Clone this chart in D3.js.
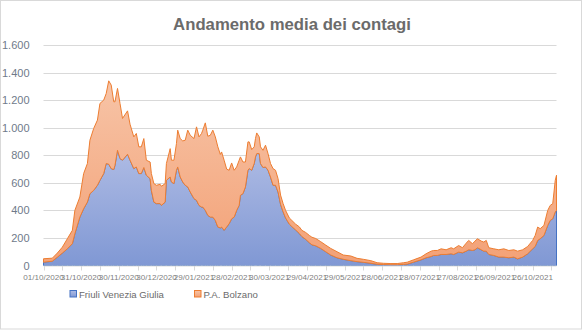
<!DOCTYPE html>
<html><head><meta charset="utf-8">
<script src="https://cdn.jsdelivr.net/npm/d3@7"></script>
<style>html,body{margin:0;padding:0;background:#fff}svg{display:block}</style>
</head><body>
<svg id="chart" width="584" height="330"></svg>
<script>
const chartTitle = "Andamento media dei contagi";
const seriesNames = ["Friuli Venezia Giulia", "P.A. Bolzano"];
const dates = [
"2020-10-01","2020-10-08","2020-10-12","2020-10-16","2020-10-20","2020-10-24","2020-10-26","2020-10-30",
"2020-11-02","2020-11-05","2020-11-07","2020-11-10","2020-11-13","2020-11-15","2020-11-18","2020-11-20",
"2020-11-22","2020-11-24","2020-11-26","2020-11-27","2020-11-29","2020-12-01","2020-12-03","2020-12-07",
"2020-12-09","2020-12-12","2020-12-14","2020-12-16","2020-12-18","2020-12-20","2020-12-22","2020-12-25",
"2020-12-26","2020-12-28","2020-12-30","2021-01-02","2021-01-03","2021-01-06","2021-01-07","2021-01-10",
"2021-01-11","2021-01-13","2021-01-15","2021-01-16","2021-01-18","2021-01-20","2021-01-22","2021-01-24",
"2021-01-26","2021-01-29","2021-01-31","2021-02-02","2021-02-04","2021-02-05","2021-02-07","2021-02-09",
"2021-02-11","2021-02-13","2021-02-15","2021-02-17","2021-02-19","2021-02-20","2021-02-22","2021-02-24",
"2021-02-26","2021-02-28","2021-03-02","2021-03-04","2021-03-06","2021-03-07","2021-03-09","2021-03-11",
"2021-03-13","2021-03-14","2021-03-16","2021-03-18","2021-03-19","2021-03-20","2021-03-22","2021-03-23",
"2021-03-25","2021-03-27","2021-03-29","2021-03-31","2021-04-02","2021-04-04","2021-04-06","2021-04-08",
"2021-04-10","2021-04-12","2021-04-15","2021-04-17","2021-04-20","2021-04-23","2021-04-25","2021-04-28",
"2021-05-01","2021-05-03","2021-05-06","2021-05-10","2021-05-14","2021-05-18","2021-05-23","2021-05-28",
"2021-06-03","2021-06-08","2021-06-13","2021-06-19","2021-06-24","2021-06-29","2021-07-05","2021-07-10",
"2021-07-15","2021-07-18","2021-07-23","2021-07-29","2021-08-02","2021-08-06","2021-08-08","2021-08-11",
"2021-08-14","2021-08-18","2021-08-22","2021-08-24","2021-08-28","2021-08-31","2021-09-03","2021-09-05",
"2021-09-08","2021-09-10","2021-09-12","2021-09-15","2021-09-17","2021-09-19","2021-09-21","2021-09-25",
"2021-09-29","2021-10-03","2021-10-07","2021-10-11","2021-10-14","2021-10-18","2021-10-22","2021-10-26",
"2021-10-28","2021-10-30","2021-11-01","2021-11-04","2021-11-07","2021-11-09","2021-11-11","2021-11-12",
"2021-11-13","2021-11-14"
];
const friuli = [
24,31,60,90,121,158,230,351,
412,460,521,545,582,618,667,740,
735,703,696,727,836,776,764,807,
764,703,715,667,667,711,655,630,
545,460,449,449,436,460,618,642,
606,594,691,715,642,606,582,570,
533,485,473,436,424,424,400,364,
351,351,327,279,273,279,255,279,
303,339,351,400,436,509,521,570,
691,703,691,740,788,812,812,740,
711,715,691,642,582,582,533,444,
390,345,300,282,258,232,210,190,
165,150,143,124,100,76,56,45,
35,28,23,16,9,7,5,5,
8,10,24,41,56,65,73,73,
80,80,85,80,97,92,104,114,
109,114,129,114,104,104,80,73,
61,61,56,61,48,61,85,121,
138,182,194,218,291,327,339,364,
388,400
];
const bolzano = [
25,22,30,43,73,97,170,146,
255,280,388,449,473,558,533,508,
605,606,492,461,449,400,303,315,
261,230,243,194,194,210,109,121,
122,134,133,140,139,134,122,206,
158,170,194,267,279,298,327,412,
412,436,533,497,534,558,635,574,
594,631,606,582,533,545,509,421,
388,405,340,315,328,279,230,181,
206,194,150,121,133,150,121,121,
125,158,121,98,121,109,97,67,
60,55,45,45,42,48,45,50,
53,55,53,49,48,48,44,31,
34,24,22,19,11,9,9,9,
12,14,17,20,29,39,36,36,
41,34,44,41,48,37,58,68,
49,63,65,63,66,78,49,48,
53,60,53,53,56,53,53,61,
80,97,73,73,109,109,110,169,
230,255
];
const yTickValues = [0, 200, 400, 600, 800, 1000, 1200, 1400, 1600];
const labelDates = ["2020-10-01","2020-10-31","2020-11-30","2020-12-30","2021-01-29","2021-02-28",
"2021-03-30","2021-04-29","2021-05-29","2021-06-28","2021-07-28","2021-08-27","2021-09-26","2021-10-26"];

const parse = d3.utcParse("%Y-%m-%d");
const fmtDate = d3.utcFormat("%d/%m/%Y");
const itFmt = d3.formatLocale({decimal: ",", thousands: ".", grouping: [3], currency: ["", " €"]}).format(",d");

const svg = d3.select("#chart");
const plot = {left: 43.5, right: 556.5, top: 45, bottom: 265.5};
const FONT = "Liberation Sans, Arial, sans-serif";

svg.append("rect").attr("x", 0.5).attr("y", 0.5).attr("width", 581).attr("height", 328.5)
  .attr("fill", "#fff").attr("stroke", "#d9d9d9").attr("stroke-width", 1);

const rows = dates.map((d, i) => ({date: parse(d), fvg: friuli[i], bz: bolzano[i]}));
const x = d3.scaleUtc().domain([parse(dates[0]), parse(dates[dates.length - 1])]).range([plot.left, plot.right]);
const y = d3.scaleLinear().domain([0, 1600]).range([plot.bottom, plot.top]);

const defs = svg.append("defs");
function grad(id, top, bottom) {
  const g = defs.append("linearGradient").attr("id", id).attr("x1", 0).attr("y1", 0).attr("x2", 0).attr("y2", 1);
  g.append("stop").attr("offset", "0%").attr("stop-color", top);
  g.append("stop").attr("offset", "100%").attr("stop-color", bottom);
}
grad("gBlue", "#aebbe4", "#8098d4");
grad("gOrange", "#f7c4a7", "#f3a176");

svg.append("g").selectAll("line").data(yTickValues.filter(v => v > 0)).join("line")
  .attr("x1", plot.left).attr("x2", plot.right)
  .attr("y1", d => Math.round(y(d)) + 0.5).attr("y2", d => Math.round(y(d)) + 0.5)
  .attr("stroke", "#d9d9d9").attr("stroke-width", 1);

const stack = d3.stack().keys(["fvg", "bz"]);
const layers = stack(rows);
const area = d3.area().x(d => x(d.data.date)).y0(d => y(d[0])).y1(d => y(d[1]));
const fills = ["url(#gBlue)", "url(#gOrange)"];
const strokes = ["#4472c4", "#ed7d31"];
svg.append("g").selectAll("path").data(layers).join("path")
  .attr("d", area).attr("fill", (d, i) => fills[i])
  .attr("stroke", (d, i) => strokes[i]).attr("stroke-width", 1).attr("stroke-linejoin", "round");

const ticks15 = d3.utcDay.range(parse(dates[0]), d3.utcDay.offset(parse(dates[dates.length - 1]), 1), 15);
const xAxis = svg.append("g").attr("transform", `translate(0,${plot.bottom})`);
xAxis.append("line").attr("x1", plot.left).attr("x2", plot.right).attr("y1", 0.5).attr("y2", 0.5)
  .attr("stroke", "#d9d9d9").attr("stroke-width", 1);
xAxis.selectAll("line.tk").data(ticks15).join("line").attr("class", "tk")
  .attr("x1", d => Math.round(x(d)) + 0.5).attr("x2", d => Math.round(x(d)) + 0.5)
  .attr("y1", 0.5).attr("y2", 5).attr("stroke", "#d9d9d9");
xAxis.selectAll("text").data(labelDates.map(parse)).join("text")
  .attr("x", d => x(d)).attr("y", 14).attr("text-anchor", "middle")
  .attr("font-family", FONT).attr("font-size", 8.1)
  .attr("fill", "#7f7f7f").text(d => fmtDate(d));

svg.append("g").selectAll("text").data(yTickValues).join("text")
  .attr("x", 29.5).attr("y", d => y(d) + 4).attr("text-anchor", "end")
  .attr("font-family", FONT).attr("font-size", 11)
  .attr("fill", "#6f7a8a").text(d => itFmt(d));

const t = svg.append("text").attr("x", 292).attr("y", 29.5).attr("text-anchor", "middle")
  .attr("font-family", FONT).attr("font-weight", "bold")
  .attr("font-size", 17).attr("fill", "#6b6b6b").text(chartTitle);
const tl = t.node().getComputedTextLength();
t.attr("font-size", 17 * 238 / tl);

const legX = [70, 194.5];
const leg = svg.append("g").selectAll("g").data(seriesNames).join("g")
  .attr("transform", (d, i) => `translate(${legX[i]},290.5)`);
leg.append("rect").attr("width", 6.5).attr("height", 6.5)
  .attr("fill", (d, i) => fills[i]).attr("stroke", (d, i) => strokes[i]).attr("stroke-width", 1);
const legTexts = leg.append("text").attr("x", 9).attr("y", 7.5)
  .attr("font-family", FONT).attr("font-size", 11)
  .attr("fill", "#6b6b6b").text(d => d);
const l0 = legTexts.nodes()[0].getComputedTextLength();
legTexts.attr("font-size", 11 * 85 / l0);
</script>
</body></html>
